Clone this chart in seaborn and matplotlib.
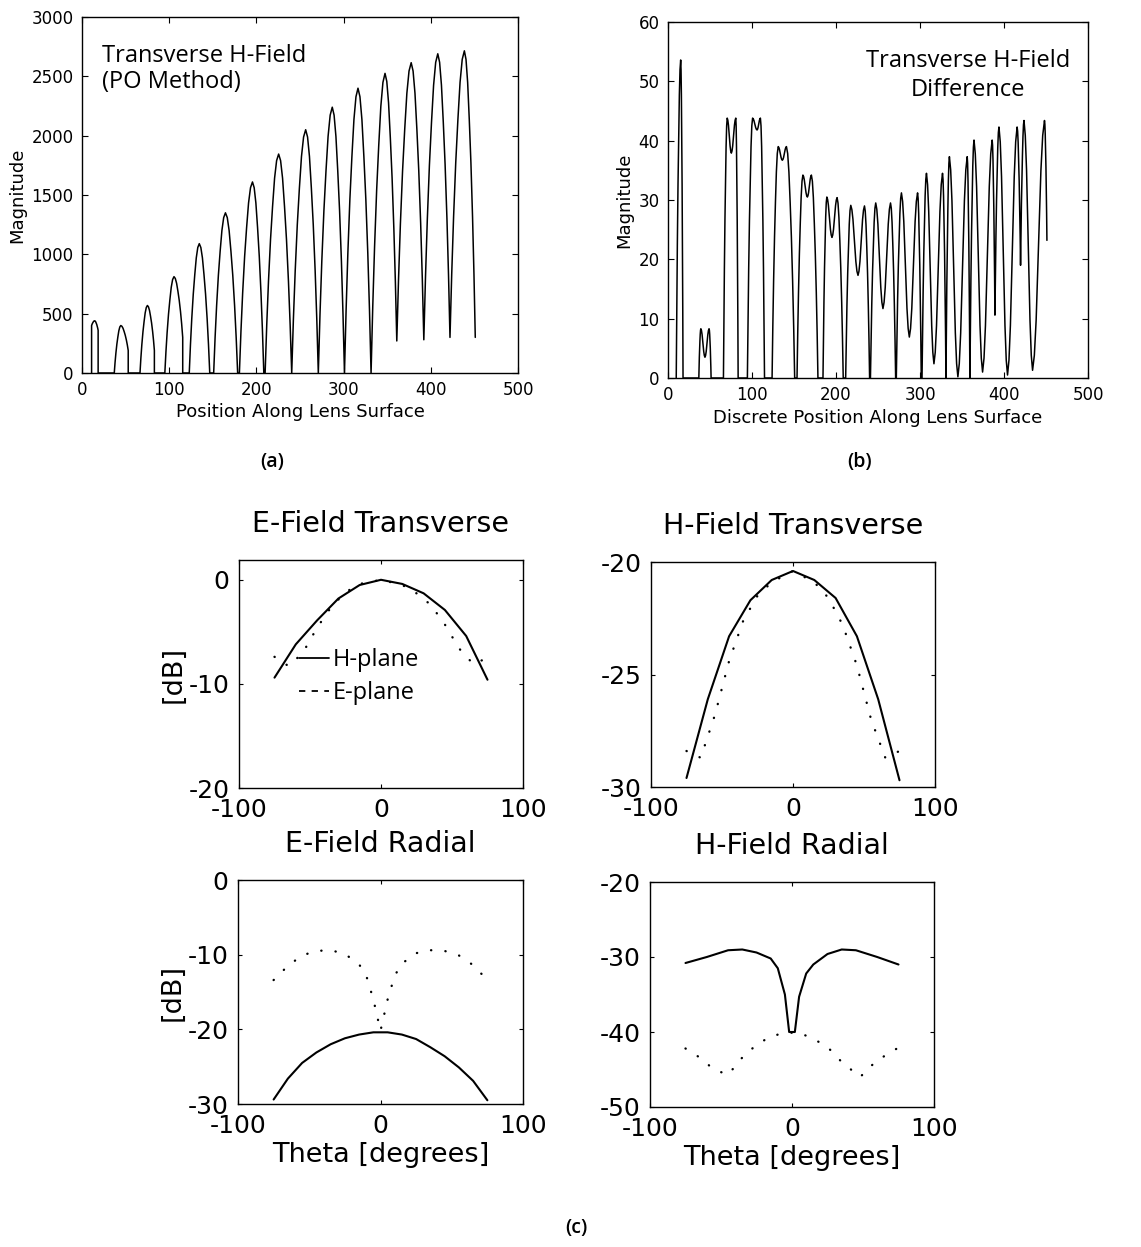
import numpy as np
import pandas as pd
import matplotlib
matplotlib.use("Agg")
import matplotlib.pyplot as plt
from matplotlib.lines import Line2D
import seaborn as sns

# ---------------- (a) transverse H-field, PO method: one entry per lobe ----------------
a_start = [11, 37, 66.5, 95, 123, 151, 180.5, 210, 240.5, 271, 301, 331.5, 361, 392, 422]
a_peak_x = [14.5, 44.5, 75, 105.5, 134.5, 164.5, 195.5, 225.5, 256.5, 287, 316.5, 347.5, 377.5, 408, 438.5]
a_end = [18.5, 53, 83, 115.5, 146.5, 178.5, 208.5, 240.5, 271, 301, 331.5, 361, 392, 422, 451]
a_peak = [440, 400, 569, 812, 1090, 1350, 1610, 1845, 2050, 2240, 2400, 2525, 2615, 2690, 2715]
a_left_base = [400, 0, 0, 0, 0, 0, 0, 0, 0, 0, 0, 0, 270, 280, 300]
a_right_base = [360, 190, 190, 300, 0, 0, 0, 0, 0, 0, 0, 270, 280, 300, 300]

# ---------------- (b) transverse H-field difference: one entry per (double) lobe ----------------
b_start = [9.8, 36.7, 66, 94.5, 123.9, 153.6, 184.5, 211.5, 241, 271.8, 302.4, 330.9, 359.4, 389.2, 419.7]
b_peak1_x = [15.1, 39.1, 70.5, 100.7, 131.2, 160.6, 189.1, 217.6, 247.3, 277.9, 307.7, 335, 364.3, 394, 423.8]
b_dip_x = [15.1, 44, 75.4, 106, 136.1, 165.9, 195.2, 226.2, 255.9, 287.3, 316.6, 345.1, 374.5, 404.2, 434]
b_peak2_x = [15.1, 48.9, 80.7, 110, 141, 170.7, 201.3, 233.9, 264.9, 297.1, 326.8, 356.2, 385.9, 415.6, 448.2]
b_end = [17.9, 51.3, 83.5, 114.9, 150.8, 178.5, 208.6, 240, 271, 301.5, 330.9, 359.4, 389.2, 419.7, 451.1]
b_peak1 = [53.6, 8.3, 43.8, 43.8, 39, 34.2, 30.5, 29.1, 29.5, 31.2, 34.5, 37.3, 40.1, 42.3, 43.4]
b_dip = [53.6, 3.5, 37.9, 41.8, 36.7, 30.5, 23.7, 17.3, 11.7, 6.9, 2.4, 0.2, 1.0, 0.5, 1.3]
b_peak2 = [53.6, 8.3, 43.8, 43.8, 39, 34.2, 30.4, 29.0, 29.5, 31.2, 34.5, 37.3, 40.1, 42.3, 43.4]
b_left_base = [0, 0, 0, 0, 0, 0, 0, 0, 0, 0, 0, 0, 0, 10.6, 19]
b_right_base = [0, 0, 0, 0, 0, 0, 0, 0, 0, 0, 0, 0, 10.6, 19, 23.2]

# lobe flank shapes (fraction of width -> fraction of height)
arch_s = [0, 0.12, 0.25, 0.4, 0.55, 0.7, 0.85, 1.0]
arch_f = [0, 0.22, 0.42, 0.61, 0.76, 0.89, 0.97, 1.0]
dip_s = [0, 0.15, 0.3, 0.5, 0.7, 0.85, 1.0]
dip_f = [0, 0.06, 0.2, 0.5, 0.8, 0.94, 1.0]

# ---------------- (c) far-field patterns [dB] vs theta [deg] ----------------
et_h_theta = [-75, -60, -45, -30, -15, 0, 15, 30, 45, 60, 75]
et_h = [-9.4, -6.2, -3.9, -1.8, -0.5, 0, -0.4, -1.3, -2.9, -5.4, -9.6]
et_e_theta = [-75, -65, -55, -45, -35, -25, -15, 0, 15, 25, 35, 45, 55, 65, 75]
et_e = [-7.4, -8.3, -7.0, -4.6, -2.6, -1.2, -0.4, 0, -0.5, -1.3, -2.4, -4.3, -6.6, -8.1, -7.5]

ht_h_theta = [-75, -60, -45, -30, -15, 0, 15, 30, 45, 60, 75]
ht_h = [-29.6, -26.1, -23.3, -21.7, -20.8, -20.4, -20.8, -21.6, -23.3, -26.1, -29.7]
ht_e_theta = [-75, -65, -55, -45, -35, -25, -15, 0, 15, 25, 35, 45, 55, 65, 75]
ht_e = [-28.4, -28.7, -26.8, -24.4, -22.6, -21.5, -20.9, -20.4, -20.9, -21.6, -22.8, -24.6, -27.0, -28.7, -28.4]

er_h_theta = [-75, -65, -55, -45, -35, -25, -15, -5, 5, 15, 25, 35, 45, 55, 65, 75]
er_h = [-29.4, -26.6, -24.5, -23.1, -22.0, -21.2, -20.7, -20.4, -20.4, -20.7, -21.3, -22.4, -23.6, -25.1, -26.9, -29.5]
er_e_theta = [-75, -65, -55, -45, -35, -25, -15, -10, -5, 0, 5, 10, 15, 25, 35, 45, 55, 65, 75]
er_e = [-13.4, -11.5, -10.1, -9.5, -9.4, -9.9, -11.3, -12.8, -16.0, -20.2, -16.0, -12.8, -11.2, -9.8, -9.4, -9.5, -10.1, -11.4, -13.4]

hr_h_theta = [-75, -60, -45, -35, -25, -15, -10, -5, -2, 2, 5, 10, 15, 25, 35, 45, 60, 75]
hr_h = [-30.8, -30.0, -29.1, -29.0, -29.4, -30.2, -31.5, -35.0, -40.0, -40.0, -35.3, -32.2, -31.0, -29.6, -29.0, -29.1, -30.0, -31.0]
hr_e_theta = [-75, -65, -55, -45, -35, -25, -15, -5, 5, 15, 25, 35, 48, 57, 68, 75]
hr_e = [-42.2, -43.4, -45.0, -45.7, -43.4, -41.7, -40.6, -40.1, -40.1, -40.9, -42.0, -44.0, -46.0, -44.3, -42.8, -42.1]


def flank(x_lo, y_lo, x_hi, y_hi, prof_s, prof_f):
    # points of one flank going from its low end to its high end
    xs = [x_lo + (x_hi - x_lo) * s for s in prof_s]
    ys = [y_lo + (y_hi - y_lo) * f for f in prof_f]
    return xs, ys


def falling(x_hi, y_hi, x_lo, y_lo, prof_s, prof_f):
    xs, ys = flank(x_lo, y_lo, x_hi, y_hi, prof_s, prof_f)
    return xs[::-1], ys[::-1]


def lobe_trace(starts, ends, middle):
    # middle(i) gives the points between the left base and the right base of lobe i
    xs, ys = [], []
    n = len(starts)
    for i in range(n):
        joined = i > 0 and starts[i] == ends[i - 1]
        if not joined:
            xs.append(starts[i]); ys.append(0)
        mx, my = middle(i)
        xs += mx; ys += my
        last = i == n - 1
        if not last and starts[i + 1] != ends[i]:
            xs.append(ends[i]); ys.append(0)
    return pd.DataFrame({"pos": xs, "mag": ys})


def a_middle(i):
    x1, y1 = flank(a_start[i], a_left_base[i], a_peak_x[i], a_peak[i], arch_s, arch_f)
    x2, y2 = falling(a_peak_x[i], a_peak[i], a_end[i], a_right_base[i], arch_s, arch_f)
    return x1 + x2[1:], y1 + y2[1:]


def b_middle(i):
    xs, ys = flank(b_start[i], b_left_base[i], b_peak1_x[i], b_peak1[i], arch_s, arch_f)
    if b_peak2_x[i] != b_peak1_x[i]:
        x2, y2 = falling(b_peak1_x[i], b_peak1[i], b_dip_x[i], b_dip[i], dip_s, dip_f)
        x3, y3 = flank(b_dip_x[i], b_dip[i], b_peak2_x[i], b_peak2[i], dip_s, dip_f)
        xs += x2[1:] + x3[1:]
        ys += y2[1:] + y3[1:]
    x4, y4 = falling(b_peak2_x[i], b_peak2[i], b_end[i], b_right_base[i], arch_s, arch_f)
    return xs + x4[1:], ys + y4[1:]


df_a = lobe_trace(a_start, a_end, a_middle)
df_b = lobe_trace(b_start, b_end, b_middle)

sns.set_theme(style="ticks")
plt.rcParams["font.family"] = ["DejaVu Sans"]
for key in ("text.color", "axes.labelcolor", "xtick.color", "ytick.color", "axes.edgecolor"):
    plt.rcParams[key] = "black"
plt.rcParams["axes.linewidth"] = 1.0
plt.rcParams["xtick.direction"] = "in"
plt.rcParams["ytick.direction"] = "in"
plt.rcParams["xtick.top"] = True
plt.rcParams["ytick.right"] = True

W, H = 1141, 1247
fig = plt.figure(figsize=(W / 100, H / 100), dpi=100)


def add_axes(l, r, t, b):
    return fig.add_axes([l / W, 1 - b / H, (r - l) / W, (b - t) / H])


hum = "Open Sans"

# ---- (a)
ax_a = add_axes(82, 518, 17, 373)
sns.lineplot(data=df_a, x="pos", y="mag", sort=False, estimator=None, color="black", lw=1.1, ax=ax_a)
ax_a.set_xlim(0, 500)
ax_a.set_ylim(0, 3000)
ax_a.set_xticks(range(0, 501, 100))
ax_a.set_yticks(range(0, 3001, 500))
ax_a.set_xlabel("Position Along Lens Surface", fontsize=13, labelpad=3)
ax_a.set_ylabel("Magnitude", fontsize=13, labelpad=4)
ax_a.text(0.045, 0.925, "Transverse H-Field\n(PO Method)", transform=ax_a.transAxes,
          ha="left", va="top", fontsize=17, family=hum, linespacing=1.15)

# ---- (b)
ax_b = add_axes(668, 1088, 22, 378)
sns.lineplot(data=df_b, x="pos", y="mag", sort=False, estimator=None, color="black", lw=1.1, ax=ax_b)
ax_b.set_xlim(0, 500)
ax_b.set_ylim(0, 60)
ax_b.set_xticks(range(0, 501, 100))
ax_b.set_yticks(range(0, 61, 10))
ax_b.set_xlabel("Discrete Position Along Lens Surface", fontsize=13, labelpad=3)
ax_b.set_ylabel("Magnitude", fontsize=13, labelpad=4)
ax_b.text(0.715, 0.925, "Transverse H-Field\nDifference", transform=ax_b.transAxes,
          ha="center", va="top", fontsize=17, family=hum, linespacing=1.3)

for ax in (ax_a, ax_b):
    ax.tick_params(labelsize=12, length=4, width=0.8)
    ax.tick_params(axis="x", pad=6)
    ax.tick_params(axis="y", pad=6)

# ---- (c) four pattern plots
dot_style = (0, (0.1, 6.0))
panels = [
    ("E-Field Transverse", (239, 523, 560, 788), et_h_theta, et_h, et_e_theta, et_e, (-20, 1.9), [-20, -10, 0]),
    ("H-Field Transverse", (651, 935, 562, 787), ht_h_theta, ht_h, ht_e_theta, ht_e, (-30, -20), [-30, -25, -20]),
    ("E-Field Radial", (238, 523, 880, 1104), er_h_theta, er_h, er_e_theta, er_e, (-30, 0), [-30, -20, -10, 0]),
    ("H-Field Radial", (650, 934, 882, 1107), hr_h_theta, hr_h, hr_e_theta, hr_e, (-50, -20), [-50, -40, -30, -20]),
]
axes_c = []
for k, (title, box, th_h, v_h, th_e, v_e, ylim, yt) in enumerate(panels):
    ax = add_axes(*box)
    sns.lineplot(x=th_h, y=v_h, sort=False, estimator=None, color="black", lw=1.5, ax=ax)
    sns.lineplot(x=th_e, y=v_e, sort=False, estimator=None, color="black", lw=1.7,
                 linestyle=dot_style, dash_capstyle="round", ax=ax)
    ax.set_xlim(-100, 100)
    ax.set_ylim(*ylim)
    ax.set_xticks([-100, 0, 100])
    ax.set_yticks(yt)
    ax.set_xticklabels(["-100", "0", "100"])
    ax.set_yticklabels([str(v) for v in yt])
    ax.tick_params(labelsize=18, length=3, width=0.8)
    ax.tick_params(axis="x", pad=7)
    ax.tick_params(axis="y", pad=7)
    ax.set_title(title, fontsize=20.5, pad=20)
    ax.set_xlabel("Theta [degrees]" if k >= 2 else "", fontsize=19.5, labelpad=3)
    ax.set_ylabel("[dB]" if k % 2 == 0 else "", fontsize=19.5, labelpad=1)
    axes_c.append(ax)

handles = [Line2D([], [], color="black", lw=1.3),
           Line2D([], [], color="black", lw=1.3, linestyle=(0, (3.5, 3.5)))]
axes_c[0].legend(handles, ["H-plane", "E-plane"], loc="upper left", bbox_to_anchor=(0.21, 0.615),
                 frameon=False, prop={"family": hum, "size": 17}, handlelength=1.3,
                 handletextpad=0.15, labelspacing=0.4, borderaxespad=0, borderpad=0)

# panel tags
fig.text(272 / W, 1 - 462 / H, "(a)", ha="center", va="center", fontsize=14, family=hum, weight="semibold")
fig.text(860 / W, 1 - 462 / H, "(b)", ha="center", va="center", fontsize=14, family=hum, weight="semibold")
fig.text(576 / W, 1 - 1228 / H, "(c)", ha="center", va="center", fontsize=14, family=hum, weight="semibold")

fig.savefig("out.png", dpi=100, facecolor="white")
